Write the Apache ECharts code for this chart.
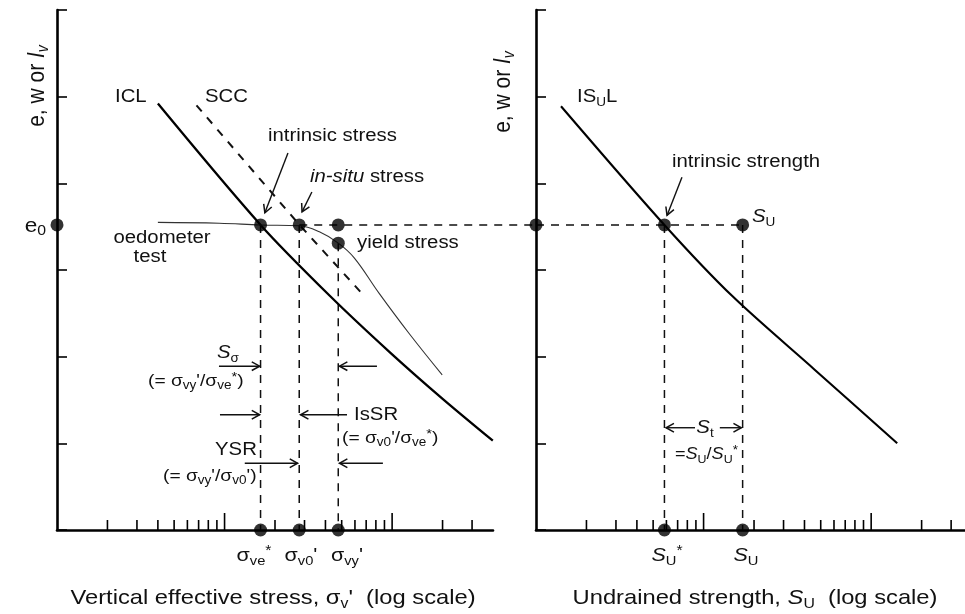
<!DOCTYPE html>
<html><head><meta charset="utf-8">
<script src="https://cdn.jsdelivr.net/npm/echarts@6/dist/echarts.min.js"></script>
<style>html,body{margin:0;padding:0;background:#fff}#c{width:965px;height:614px}</style>
</head><body><div id="c"></div>
<script>
// ---------- data ----------
const iclX = [4.0, 16.4, 42.6, 97, 201, 399];
const iclY = [4.92, 3.52, 2.70, 2.05, 1.51, 1.03];
const sccX = [6.8, 28, 66];
const sccY = [4.90, 3.52, 2.73];
const oedX = [4.0, 9.3, 16.4, 27.9, 36.8, 47.7, 59.4, 83.7, 126, 199];
const oedY = [3.55, 3.54, 3.52, 3.51, 3.44, 3.31, 3.14, 2.73, 2.27, 1.79];
const isulX = [1.41, 5.84, 15, 46, 143];
const isulY = [4.89, 3.52, 2.69, 1.85, 1.0];
const stressKeys = [16.4, 27.9, 47.7];      // σve*, σv0', σvy'
const strengthKeys = [5.84, 17.1];          // Su*, Su
const e0 = 3.52;
const yieldE = 3.31;
const connectorEnd = 720;                   // dashed e0 line continues to right panel
const minorTicks = [2,3,4,5,6,7,8,9,20,30,40,50,60,70,80,90,200,300];
const majorTicks = [10,100];
const leftArrows = [
  [23.9,4.35,17.4,3.66],[33.2,3.90,29.0,3.67],
  [9.26,1.89,16.2,1.89],[81.2,1.89,48.5,1.89],
  [9.39,1.33,16.2,1.33],[53.8,1.33,28.4,1.33],
  [13.2,0.77,27.3,0.77],[88.1,0.77,48.5,0.77]
];
const rightArrows = [
  [7.43,4.07,6.05,3.63],[8.89,1.18,5.97,1.18],[12.5,1.18,16.8,1.18]
];

// ---------- helpers ----------
const FF = 'Liberation Sans, Arial, Helvetica, sans-serif';
const zip = (xs, ys) => xs.map((x, i) => [x, ys[i]]);
function makeRich(fs){
  const lh = Math.round(fs*1.25);
  const sfs = Math.round(fs*0.68);
  return {
    i:{fontFamily:FF,fontSize:fs,fontStyle:'italic',lineHeight:lh,fill:'#111'},
    n:{fontFamily:FF,fontSize:fs,lineHeight:lh,fill:'#111'},
    s:{fontFamily:FF,fontSize:sfs,lineHeight:sfs,verticalAlign:'bottom',fill:'#111'},
    si:{fontFamily:FF,fontSize:sfs,fontStyle:'italic',lineHeight:sfs,verticalAlign:'bottom',fill:'#111'},
    p:{fontFamily:FF,fontSize:sfs+1,lineHeight:sfs+1,verticalAlign:'top',fill:'#111'}
  };
}
function txt(x, y, text, fs, align, extra){
  return Object.assign({
    type:'text', x:x, y:y, scaleX:1.13, z:100,
    style:{text:text, fontFamily:FF, fontSize:fs, lineHeight:Math.round(fs*1.25),
      fill:'#111', align:align||'left', verticalAlign:'middle', rich:makeRich(fs)}
  }, extra||{});
}
function tickRenderer(len){
  return function(params, api){
    const p = api.coord([api.value(0), api.value(1)]);
    return {type:'line', shape:{x1:p[0],y1:p[1],x2:p[0],y2:p[1]-len},
      style:{stroke:'#000', lineWidth:1.6}};
  };
}
function arrowRenderer(params, api){
  const a = api.coord([api.value(0), api.value(1)]);
  const b = api.coord([api.value(2), api.value(3)]);
  const ang = Math.atan2(b[1]-a[1], b[0]-a[0]);
  const h = 9, w = 0.5;
  const p1 = [b[0]-h*Math.cos(ang-w), b[1]-h*Math.sin(ang-w)];
  const p2 = [b[0]-h*Math.cos(ang+w), b[1]-h*Math.sin(ang+w)];
  return {type:'group', children:[
    {type:'line', shape:{x1:a[0],y1:a[1],x2:b[0],y2:b[1]}, style:{stroke:'#111',lineWidth:1.4}},
    {type:'polyline', shape:{points:[p1,[b[0],b[1]],p2]}, style:{stroke:'#111',lineWidth:1.5,fill:null}}
  ]};
}
function segRenderer(params, api){
  const a = api.coord([api.value(0), api.value(1)]);
  const b = api.coord([api.value(2), api.value(3)]);
  return {type:'line', shape:{x1:a[0],y1:a[1],x2:b[0],y2:b[1]},
    style:{stroke:'#111', lineWidth:1.5, lineDash:[8,7]}};
}
const DASH = [8,7];
function dashed(g, pts, extra){
  return Object.assign({type:'line', xAxisIndex:g, yAxisIndex:g, data:pts, showSymbol:false,
    symbol:'none', silent:true, lineStyle:{color:'#111', width:1.5, type:DASH}, z:3}, extra||{});
}
function solid(g, pts, width){
  return {type:'line', xAxisIndex:g, yAxisIndex:g, data:pts, showSymbol:false, symbol:'none',
    smooth:0.3, silent:true, lineStyle:{color:'#000', width:width}, z:4};
}
function dots(g, pts){
  return {type:'scatter', xAxisIndex:g, yAxisIndex:g, data:pts, symbolSize:13, clip:false,
    itemStyle:{color:'#000'}, z:10, silent:true};
}
function ticks(g){
  return [
    {type:'custom', xAxisIndex:g, yAxisIndex:g, data:minorTicks.map(v=>[v,0]), renderItem:tickRenderer(10), silent:true, z:5},
    {type:'custom', xAxisIndex:g, yAxisIndex:g, data:majorTicks.map(v=>[v,0]), renderItem:tickRenderer(17), silent:true, z:5}
  ];
}
function arrows(g, data){
  return {type:'custom', xAxisIndex:g, yAxisIndex:g, data:data, renderItem:arrowRenderer,
    encode:{x:[0,2], y:[1,3]}, silent:true, z:6, clip:false};
}
function xAx(g, max){
  return {type:'log', logBase:10, min:1, max:max, gridIndex:g,
    axisLine:{show:true, onZero:false, lineStyle:{color:'#000', width:2.6}},
    axisTick:{show:false}, axisLabel:{show:false}, splitLine:{show:false}, minorTick:{show:false}};
}
function yAx(g){
  return {type:'value', min:0, max:6, interval:1, gridIndex:g,
    axisLine:{show:true, onZero:false, lineStyle:{color:'#000', width:2.6}},
    axisTick:{show:true, inside:true, length:10, lineStyle:{color:'#000', width:1.6}},
    axisLabel:{show:false}, splitLine:{show:false}};
}

// ---------- series ----------
const series = [];
// left panel
series.push(solid(0, zip(iclX, iclY), 2.3));
series.push(dashed(0, zip(sccX, sccY), {lineStyle:{color:'#111', width:2, type:[8,8]}}));
series.push({type:'line', xAxisIndex:0, yAxisIndex:0, data:zip(oedX, oedY), showSymbol:false,
  symbol:'none', smooth:0.4, silent:true, lineStyle:{color:'#333', width:1.1}, z:4});
series.push(dashed(0, [[stressKeys[0], e0],[stressKeys[0], 0]]));
series.push(dashed(0, [[stressKeys[1], e0],[stressKeys[1], 0]]));
series.push(dashed(0, [[stressKeys[2], yieldE],[stressKeys[2], 0]]));
series.push({type:'custom', xAxisIndex:0, yAxisIndex:0, data:[[stressKeys[1], e0, connectorEnd, e0]],
  encode:{x:[0,2], y:[1,3]}, renderItem:segRenderer, clip:false, silent:true, z:3});
series.push(dots(0, [[1,e0],[stressKeys[0],e0],[stressKeys[1],e0],[stressKeys[2],e0],[stressKeys[2],yieldE],
  [stressKeys[0],0],[stressKeys[1],0],[stressKeys[2],0]]));
series.push(...ticks(0));
series.push(arrows(0, leftArrows));
// right panel
series.push(solid(1, zip(isulX, isulY), 2.1));
series.push(dashed(1, [[strengthKeys[0], e0],[strengthKeys[0], 0]]));
series.push(dashed(1, [[strengthKeys[1], e0],[strengthKeys[1], 0]]));
series.push(dashed(1, [[1, e0],[strengthKeys[1], e0]]));
series.push(dots(1, [[1,e0],[strengthKeys[0],e0],[strengthKeys[1],e0],[strengthKeys[0],0],[strengthKeys[1],0]]));
series.push(...ticks(1));
series.push(arrows(1, rightArrows));

// ---------- texts ----------
const graphic = [
  txt(115, 97, 'ICL', 18),
  txt(205, 97, 'SCC', 18),
  txt(268, 136, 'intrinsic stress', 18),
  txt(310, 177, '{i|in-situ} stress', 18),
  txt(357, 243, 'yield stress', 18),
  txt(46, 226, 'e{s|0}', 20, 'right'),
  txt(162, 238, 'oedometer', 18, 'center'),
  txt(150, 257, 'test', 18, 'center'),
  txt(217, 353, '{i|S}{s|σ}', 18),
  txt(148, 381, "(= σ{s|vy}'/σ{s|ve}{p|*})", 17),
  txt(354, 415, 'IsSR', 18),
  txt(342, 438, "(= σ{s|v0}'/σ{s|ve}{p|*})", 17),
  txt(215, 450, 'YSR', 18),
  txt(163, 476, "(= σ{s|vy}'/σ{s|v0}')", 17),
  txt(254, 556, 'σ{s|ve}{p|*}', 19, 'center'),
  txt(301, 556, "σ{s|v0}'", 19, 'center'),
  txt(347, 556, "σ{s|vy}'", 19, 'center'),
  txt(273, 598, "Vertical effective stress, σ{s|v}'  (log scale)", 21, 'center'),
  txt(37, 86, 'e, w or {i|I}{si|v}', 21, 'center', {rotation:Math.PI/2, scaleX:1, scaleY:1.13}),
  txt(503, 92, 'e, w or {i|I}{si|v}', 21, 'center', {rotation:Math.PI/2, scaleX:1, scaleY:1.13}),
  txt(577, 97, 'IS{s|U}L', 18),
  txt(672, 162, 'intrinsic strength', 18),
  txt(752, 217, '{i|S}{s|U}', 18),
  txt(705, 428, '{i|S}{s|t}', 18, 'center'),
  txt(675, 455, '={i|S}{s|U}/{i|S}{s|U}{p|*}', 16),
  txt(667, 556, '{i|S}{s|U}{p|*}', 19, 'center'),
  txt(746, 556, '{i|S}{s|U}', 19, 'center'),
  txt(755, 598, 'Undrained strength, {i|S}{s|U}  (log scale)', 21, 'center')
];

const chart = echarts.init(document.getElementById('c'), null, {renderer:'canvas'});
chart.setOption({
  animation:false,
  backgroundColor:'#fff',
  grid:[
    {left:57, top:10, width:436, height:520},
    {left:536, top:10, width:429, height:520}
  ],
  xAxis:[xAx(0, 400), xAx(1, 363)],
  yAxis:[yAx(0), yAx(1)],
  series:series,
  graphic:graphic
});
</script></body></html>
